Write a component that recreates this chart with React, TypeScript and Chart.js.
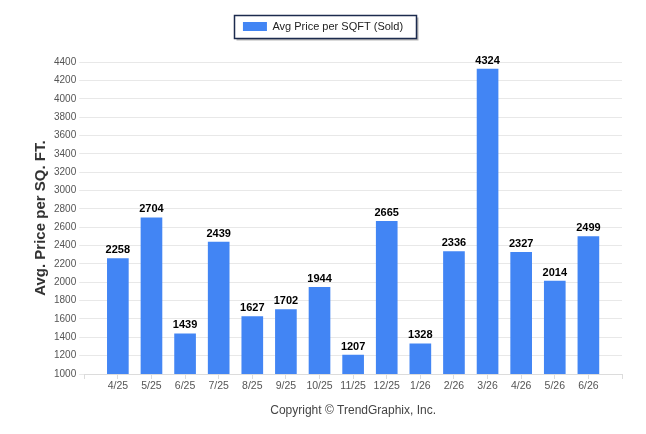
import { useEffect, useRef } from 'react';
import { Chart, registerables } from 'chart.js';

Chart.register(...registerables);

// Monthly avg price per sq ft (sold)
const months = ['4/25', '5/25', '6/25', '7/25', '8/25', '9/25', '10/25', '11/25', '12/25', '1/26', '2/26', '3/26', '4/26', '5/26', '6/26'];
const avgPrice = [2258, 2704, 1439, 2439, 1627, 1702, 1944, 1207, 2665, 1328, 2336, 4324, 2327, 2014, 2499];

const yMin = 1000;
const yMax = 4400;
const yStep = 200;

const FONT = '"Liberation Sans", Arial, sans-serif';

// value labels above each bar
const barValueLabels = {
  id: 'barValueLabels',
  afterDatasetsDraw(chart: Chart) {
    const ctx = chart.ctx;
    const meta = chart.getDatasetMeta(0);
    const values = chart.data.datasets[0].data as (number | null)[];
    ctx.save();
    ctx.font = `bold 11px ${FONT}`;
    ctx.fillStyle = '#000';
    ctx.textAlign = 'center';
    ctx.textBaseline = 'bottom';
    meta.data.forEach((bar: any, i: number) => {
      const v = values[i];
      if (v == null) return;
      ctx.fillText(String(v), bar.x, bar.y - 3);
    });
    ctx.restore();
  },
};

// framed legend with a small drop shadow
const legendFrame = {
  id: 'legendFrame',
  beforeDraw(chart: any) {
    const lg = chart.legend;
    if (!lg || !lg.legendHitBoxes || !lg.legendHitBoxes.length) return;
    const hb = lg.legendHitBoxes[0];
    const ctx = chart.ctx;
    const cy = hb.top + hb.height / 2;
    const x = Math.round(hb.left - 9) + 0.5;
    const y = Math.round(cy - 12) + 0.5;
    const w = Math.round(hb.width + 22);
    const h = 23;
    ctx.save();
    ctx.fillStyle = '#b5b5b5';
    ctx.fillRect(x + 2, y + 2, w, h);
    ctx.fillStyle = '#fff';
    ctx.fillRect(x, y, w, h);
    ctx.strokeStyle = '#1c2b4e';
    ctx.lineWidth = 1.5;
    ctx.strokeRect(x, y, w, h);
    ctx.restore();
  },
};

const App = () => {
  const chartRef = useRef<HTMLCanvasElement>(null);
  const chartInstance = useRef<Chart | null>(null);

  useEffect(() => {
    document.body.style.margin = '0';
    if (!chartRef.current) return;
    if (chartInstance.current) chartInstance.current.destroy();

    // empty slots on both ends so the axis runs past the first and last bar
    const labels = ['', ...months, ''];
    const data = [null, ...avgPrice, null];

    chartInstance.current = new Chart(chartRef.current, {
      type: 'bar',
      data: {
        labels,
        datasets: [
          {
            label: 'Avg Price per SQFT (Sold)',
            data,
            backgroundColor: '#4285F4',
            borderWidth: 0,
            barThickness: 21,
          },
        ],
      },
      options: {
        responsive: true,
        maintainAspectRatio: false,
        animation: false,
        layout: { padding: { top: 0, left: 24, right: 24, bottom: 16 } },
        plugins: {
          legend: {
            position: 'top',
            labels: {
              boxWidth: 24,
              boxHeight: 9,
              padding: 21,
              color: '#222',
              font: { family: FONT, size: 11 },
            },
          },
          // blank spacer placed under the legend (lower weight than the legend)
          title: {
            display: true,
            text: ' ',
            weight: 500,
            font: { size: 1 },
            padding: { top: 0, bottom: 19 },
          },
          tooltip: { enabled: false },
        },
        scales: {
          x: {
            offset: false,
            grid: { display: true, offset: false, drawOnChartArea: false, tickLength: 5, color: '#dcdcdc' },
            border: { display: true, color: '#dcdcdc' },
            ticks: { color: '#555', font: { family: FONT, size: 10.5 }, maxRotation: 0, autoSkip: false, padding: 1 },
            title: {
              display: true,
              text: 'Copyright © TrendGraphix, Inc.',
              color: '#444',
              font: { family: FONT, size: 12 },
              padding: { top: 10, bottom: 0 },
            },
          },
          y: {
            min: yMin,
            max: yMax,
            grid: { color: '#e8e8e8', tickLength: 5 },
            border: { display: false },
            ticks: {
              stepSize: yStep,
              color: '#555',
              font: { family: FONT, size: 10 },
              padding: 3,
              callback: (v: any) => String(v),
            },
            title: {
              display: true,
              text: 'Avg. Price per SQ. FT.',
              color: '#333',
              font: { family: FONT, size: 15, weight: 'bold' },
              padding: { top: 8, bottom: 1 },
            },
          },
        },
      },
      plugins: [legendFrame, barValueLabels],
    });

    return () => {
      if (chartInstance.current) {
        chartInstance.current.destroy();
        chartInstance.current = null;
      }
    };
  }, []);

  return (
    <div style={{ position: 'relative', width: 646, height: 434, background: '#fff' }}>
      <canvas ref={chartRef} />
    </div>
  );
};

export default App;
